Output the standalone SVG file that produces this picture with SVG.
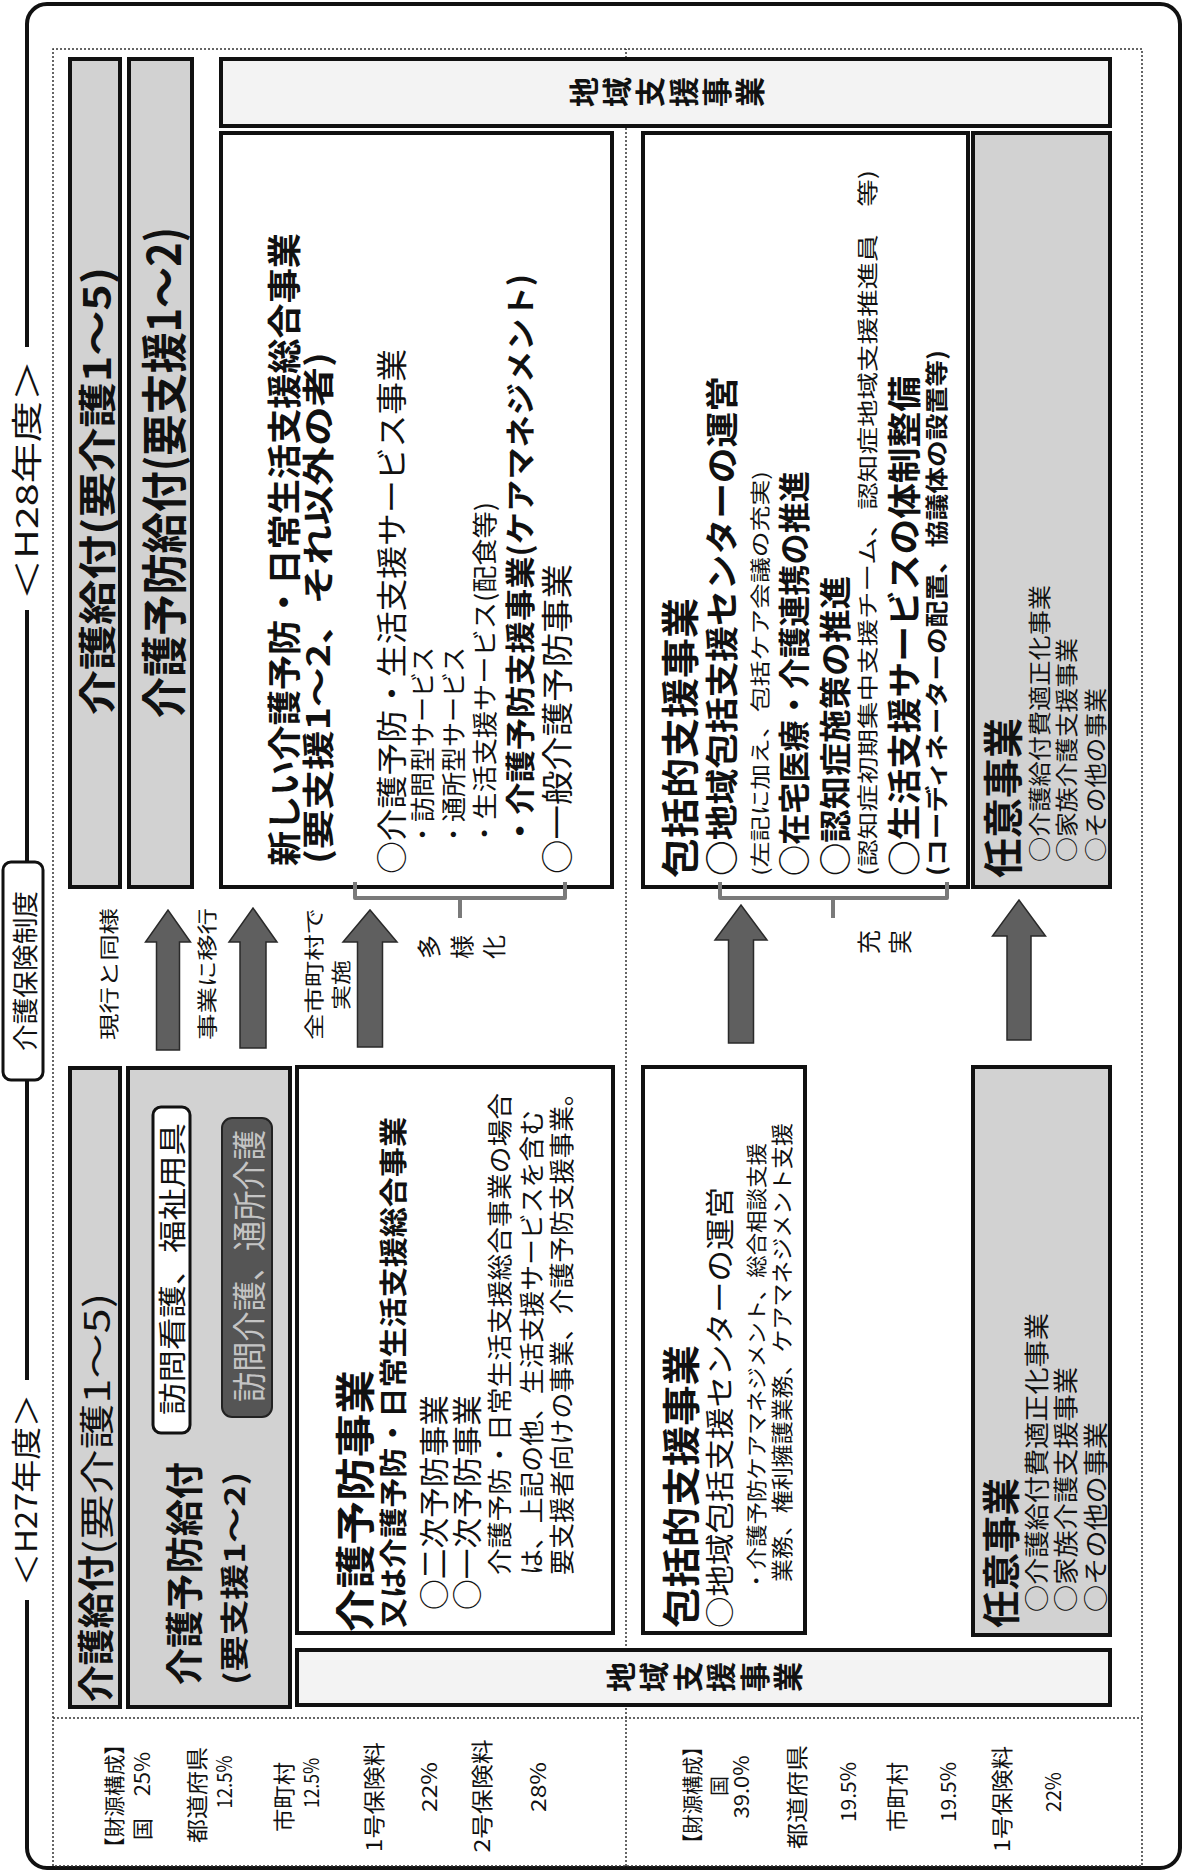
<svg xmlns="http://www.w3.org/2000/svg" width="1190" height="1872" viewBox="0 0 1190 1872">
<style>
.t{font-family:"Noto Sans CJK JP","Noto Sans CJK SC","Noto Sans",sans-serif;dominant-baseline:central;fill:#111}
.b{font-weight:700}
.m{text-anchor:middle}
.bx{stroke:#111;stroke-width:4}
.gray{fill:#d2d2d2}
.light{fill:#f3f3f3}
.white{fill:#fff}
.dot{fill:none;stroke:#333;stroke-width:1.5;stroke-dasharray:2 2}
.arrow{fill:#5f5f5f;stroke:#2a2a2a;stroke-width:1.5}
.brace{fill:none;stroke:#7a7a7a;stroke-width:4;stroke-linejoin:round}
</style>
<rect width="1190" height="1872" fill="#fff"/>
<g id="page" transform="translate(0 1872) rotate(-90)">
 <g id="frame">
  <rect x="4" y="27" width="1864" height="1153" rx="20" fill="none" stroke="#111" stroke-width="4"/>
  <rect x="6" y="53" width="1817" height="1089" class="dot"/>
  <line x1="154" y1="53" x2="154" y2="1142" class="dot"/>
  <line x1="6" y1="626" x2="1823" y2="626" class="dot"/>
  <rect x="272" y="12" width="220" height="30" fill="#fff"/>
  <rect x="1262" y="12" width="263" height="30" fill="#fff"/>
  <text class="t" x="286" y="24" font-size="30" textLength="192" lengthAdjust="spacingAndGlyphs">＜H27年度＞</text>
  <text class="t" x="1272" y="24" font-size="31" textLength="240" lengthAdjust="spacingAndGlyphs">＜H28年度＞</text>
 </g>
 <g id="node-seido">
  <rect x="792" y="3" width="218" height="40" rx="8" fill="#fff" stroke="#111" stroke-width="3"/>
  <text class="t m" x="901" y="23" font-size="26" textLength="160" lengthAdjust="spacingAndGlyphs">介護保険制度</text>
 </g>
 <g id="node-finance27">
  <text class="t m" x="76" y="113" font-size="21" textLength="124" lengthAdjust="spacingAndGlyphs">【財源構成】</text>
  <text class="t m" x="76" y="141" font-size="21" textLength="88" lengthAdjust="spacingAndGlyphs">国　25%</text>
  <text class="t m" x="77" y="195" font-size="22" textLength="96" lengthAdjust="spacingAndGlyphs">都道府県</text>
  <text class="t m" x="90" y="223" font-size="21" textLength="53" lengthAdjust="spacingAndGlyphs">12.5%</text>
  <text class="t m" x="75" y="282" font-size="22" textLength="70" lengthAdjust="spacingAndGlyphs">市町村</text>
  <text class="t m" x="89" y="310" font-size="21" textLength="50" lengthAdjust="spacingAndGlyphs">12.5%</text>
  <text class="t m" x="75" y="372" font-size="22" textLength="110" lengthAdjust="spacingAndGlyphs">1号保険料</text>
  <text class="t m" x="85" y="428" font-size="21" textLength="50" lengthAdjust="spacingAndGlyphs">22%</text>
  <text class="t m" x="76" y="480" font-size="22" textLength="113" lengthAdjust="spacingAndGlyphs">2号保険料</text>
  <text class="t m" x="85" y="537" font-size="21" textLength="50" lengthAdjust="spacingAndGlyphs">28%</text>
 </g>
 <g id="node-finance28">
  <text class="t m" x="77" y="691" font-size="21" textLength="116" lengthAdjust="spacingAndGlyphs">【財源構成】</text>
  <text class="t m" x="86" y="718" font-size="20">国</text>
  <text class="t m" x="85" y="740" font-size="21" textLength="63" lengthAdjust="spacingAndGlyphs">39.0%</text>
  <text class="t m" x="75" y="795" font-size="22" textLength="104" lengthAdjust="spacingAndGlyphs">都道府県</text>
  <text class="t m" x="80" y="847" font-size="21" textLength="60" lengthAdjust="spacingAndGlyphs">19.5%</text>
  <text class="t m" x="75" y="895" font-size="22" textLength="70" lengthAdjust="spacingAndGlyphs">市町村</text>
  <text class="t m" x="80" y="947" font-size="21" textLength="60" lengthAdjust="spacingAndGlyphs">19.5%</text>
  <text class="t m" x="73" y="1000" font-size="22" textLength="106" lengthAdjust="spacingAndGlyphs">1号保険料</text>
  <text class="t m" x="80" y="1052" font-size="21" textLength="40" lengthAdjust="spacingAndGlyphs">22%</text>
 </g>
 <g id="node-kaigo27">
  <rect x="165" y="70" width="639" height="50" class="bx gray"/>
  <text class="t b" x="170" y="94" font-size="37" textLength="147" lengthAdjust="spacingAndGlyphs">介護給付</text>
  <text class="t" x="317" y="94" font-size="35" textLength="262" lengthAdjust="spacingAndGlyphs">(要介護1～5)</text>
 </g>
 <g id="node-yobo27">
  <rect x="165" y="128" width="639" height="162" class="bx gray"/>
  <text class="t b" x="187" y="181" font-size="38" textLength="223" lengthAdjust="spacingAndGlyphs">介護予防給付</text>
  <text class="t b" x="187" y="233" font-size="28" textLength="213" lengthAdjust="spacingAndGlyphs">(要支援1～2)</text>
  <rect x="439" y="153" width="326" height="37" rx="8" fill="#fff" stroke="#111" stroke-width="3"/>
  <text class="t" x="457" y="171" font-size="28" textLength="292" lengthAdjust="spacingAndGlyphs">訪問看護、福祉用具</text>
  <rect x="455" y="222" width="299" height="50" rx="10" fill="#555" stroke="#222" stroke-width="2"/>
  <text class="t" x="470" y="247" font-size="34" textLength="272" lengthAdjust="spacingAndGlyphs" style="fill:#c4c4c4">訪問介護、通所介護</text>
 </g>
 <g id="node-yoboj27">
  <rect x="239" y="297" width="566" height="316" class="bx white"/>
  <text class="t b" x="240" y="353" font-size="40" textLength="262" lengthAdjust="spacingAndGlyphs">介護予防事業</text>
  <text class="t b" x="244" y="392" font-size="28" textLength="511" lengthAdjust="spacingAndGlyphs">又は介護予防・日常生活支援総合事業</text>
  <text class="t" x="262" y="432" font-size="30" textLength="215" lengthAdjust="spacingAndGlyphs">○二次予防事業</text>
  <text class="t" x="262" y="465" font-size="30" textLength="215" lengthAdjust="spacingAndGlyphs">○一次予防事業</text>
  <text class="t" x="297" y="498" font-size="25" textLength="482" lengthAdjust="spacingAndGlyphs">介護予防・日常生活支援総合事業の場合</text>
  <text class="t" x="297" y="530" font-size="25" textLength="465" lengthAdjust="spacingAndGlyphs">は、上記の他、生活支援サービスを含む</text>
  <text class="t" x="297" y="560" font-size="25" textLength="495" lengthAdjust="spacingAndGlyphs">要支援者向けの事業、介護予防支援事業。</text>
 </g>
 <g id="node-hokatsu27">
  <rect x="239" y="643" width="566" height="162" class="bx white"/>
  <text class="t b" x="244" y="678" font-size="38" textLength="283" lengthAdjust="spacingAndGlyphs">包括的支援事業</text>
  <text class="t" x="244" y="718" font-size="29" textLength="441" lengthAdjust="spacingAndGlyphs">○地域包括支援センターの運営</text>
  <text class="t" x="280" y="755" font-size="21" textLength="449" lengthAdjust="spacingAndGlyphs">・介護予防ケアマネジメント、総合相談支援</text>
  <text class="t" x="290" y="780" font-size="22" textLength="459" lengthAdjust="spacingAndGlyphs">業務、権利擁護業務、ケアマネジメント支援</text>
 </g>
 <g id="node-nini27">
  <rect x="237" y="973" width="568" height="137" class="bx gray"/>
  <text class="t b" x="244" y="998" font-size="38" textLength="150" lengthAdjust="spacingAndGlyphs">任意事業</text>
  <text class="t" x="260" y="1035" font-size="25" textLength="299" lengthAdjust="spacingAndGlyphs">○介護給付費適正化事業</text>
  <text class="t" x="260" y="1064" font-size="25" textLength="245" lengthAdjust="spacingAndGlyphs">○家族介護支援事業</text>
  <text class="t" x="260" y="1094" font-size="25" textLength="190" lengthAdjust="spacingAndGlyphs">○その他の事業</text>
 </g>
 <g id="node-chiiki27">
  <rect x="167" y="297" width="55" height="813" class="bx light"/>
  <text class="t b m" x="195" y="619" font-size="30">地</text>
  <text class="t b m" x="195" y="652" font-size="30">域</text>
  <text class="t b m" x="195" y="686" font-size="30">支</text>
  <text class="t b m" x="195" y="719" font-size="30">援</text>
  <text class="t b m" x="195" y="753" font-size="30">事</text>
  <text class="t b m" x="195" y="786" font-size="30">業</text>
 </g>
 <g id="node-kaigo28">
  <rect x="985" y="70" width="828" height="50" class="bx gray"/>
  <text class="t b" x="1157" y="94" font-size="38" textLength="448" lengthAdjust="spacingAndGlyphs">介護給付(要介護1～5)</text>
 </g>
 <g id="node-yobo28">
  <rect x="985" y="129" width="828" height="63" class="bx gray"/>
  <text class="t b" x="1154" y="161" font-size="46" textLength="491" lengthAdjust="spacingAndGlyphs">介護予防給付(要支援1～2)</text>
 </g>
 <g id="node-chiiki28">
  <rect x="1746" y="221" width="67" height="889" class="bx light"/>
  <text class="t b m" x="1780" y="582" font-size="30">地</text>
  <text class="t b m" x="1780" y="615" font-size="30">域</text>
  <text class="t b m" x="1780" y="648" font-size="30">支</text>
  <text class="t b m" x="1780" y="682" font-size="30">援</text>
  <text class="t b m" x="1780" y="715" font-size="30">事</text>
  <text class="t b m" x="1780" y="748" font-size="30">業</text>
 </g>
 <g id="node-sogo28">
  <rect x="985" y="221" width="754" height="391" class="bx white"/>
  <text class="t b" x="1006" y="282" font-size="34" textLength="633" lengthAdjust="spacingAndGlyphs">新しい介護予防・日常生活支援総合事業</text>
  <text class="t b" x="1008" y="316" font-size="32" textLength="512" lengthAdjust="spacingAndGlyphs">(要支援1～2、それ以外の者)</text>
  <text class="t" x="998" y="389" font-size="31" textLength="525" lengthAdjust="spacingAndGlyphs">○介護予防・生活支援サービス事業</text>
  <text class="t" x="1025" y="421" font-size="25" textLength="200" lengthAdjust="spacingAndGlyphs">・訪問型サービス</text>
  <text class="t" x="1025" y="452" font-size="25" textLength="200" lengthAdjust="spacingAndGlyphs">・通所型サービス</text>
  <text class="t" x="1025" y="483" font-size="25" textLength="345" lengthAdjust="spacingAndGlyphs">・生活支援サービス(配食等)</text>
  <text class="t b" x="1025" y="518" font-size="30" textLength="573" lengthAdjust="spacingAndGlyphs">・介護予防支援事業(ケアマネジメント)</text>
  <text class="t" x="998" y="555" font-size="32" textLength="310" lengthAdjust="spacingAndGlyphs">○一般介護予防事業</text>
 </g>
 <g id="node-hokatsu28">
  <rect x="985" y="643" width="754" height="325" class="bx white"/>
  <text class="t b" x="994" y="677" font-size="38" textLength="280" lengthAdjust="spacingAndGlyphs">包括的支援事業</text>
  <text class="t b" x="996" y="720" font-size="33" textLength="500" lengthAdjust="spacingAndGlyphs">○地域包括支援センターの運営</text>
  <text class="t" x="996" y="759" font-size="20" textLength="405" lengthAdjust="spacingAndGlyphs">(左記に加え、包括ケア会議の充実)</text>
  <text class="t b" x="996" y="792" font-size="32" textLength="405" lengthAdjust="spacingAndGlyphs">○在宅医療・介護連携の推進</text>
  <text class="t b" x="996" y="833" font-size="32" textLength="300" lengthAdjust="spacingAndGlyphs">○認知症施策の推進</text>
  <text class="t" x="996" y="866" font-size="21" textLength="706" lengthAdjust="spacingAndGlyphs">(認知症初期集中支援チーム、認知症地域支援推進員　等)</text>
  <text class="t b" x="996" y="902" font-size="34" textLength="500" lengthAdjust="spacingAndGlyphs">○生活支援サービスの体制整備</text>
  <text class="t b" x="996" y="935" font-size="23" textLength="526" lengthAdjust="spacingAndGlyphs">(コーディネーターの配置、協議体の設置等)</text>
 </g>
 <g id="node-nini28">
  <rect x="985" y="973" width="754" height="137" class="bx gray"/>
  <text class="t b" x="994" y="1001" font-size="40" textLength="160" lengthAdjust="spacingAndGlyphs">任意事業</text>
  <text class="t" x="1010" y="1038" font-size="23" textLength="277" lengthAdjust="spacingAndGlyphs">○介護給付費適正化事業</text>
  <text class="t" x="1010" y="1065" font-size="23" textLength="224" lengthAdjust="spacingAndGlyphs">○家族介護支援事業</text>
  <text class="t" x="1010" y="1094" font-size="23" textLength="174" lengthAdjust="spacingAndGlyphs">○その他の事業</text>
 </g>
 <g id="connectors">
  <polygon class="arrow" points="822,156.5 930,156.5 930,145.5 962,168 930,190.5 930,179.5 822,179.5"/>
  <polygon class="arrow" points="824,240 930,240 930,229 964,253 930,277 930,266 824,266"/>
  <polygon class="arrow" points="825,357.5 930,357.5 930,343 962,370 930,397 930,382.5 825,382.5"/>
  <polygon class="arrow" points="829,728.5 932,728.5 932,715 967,741 932,767 932,753.5 829,753.5"/>
  <polygon class="arrow" points="832,1007 936,1007 936,992.5 972,1019 936,1045.5 936,1031 832,1031"/>
  <path class="brace" d="M990 355 L974 355 L974 565 L990 565 M974 460 L954 460"/>
  <path class="brace" d="M990 720 L974 720 L974 947 L990 947 M974 833 L954 833"/>
  <text class="t" x="832" y="108" font-size="20" textLength="132" lengthAdjust="spacingAndGlyphs">現行と同様</text>
  <text class="t" x="832" y="206" font-size="20" textLength="132" lengthAdjust="spacingAndGlyphs">事業に移行</text>
  <text class="t" x="832" y="313" font-size="20" textLength="132" lengthAdjust="spacingAndGlyphs">全市町村で</text>
  <text class="t" x="862" y="340" font-size="20" textLength="50" lengthAdjust="spacingAndGlyphs">実施</text>
  <text class="t m" x="925" y="427" font-size="24">多</text>
  <text class="t m" x="925" y="460" font-size="24">様</text>
  <text class="t m" x="925" y="492" font-size="24">化</text>
  <text class="t m" x="930" y="867" font-size="24">充</text>
  <text class="t m" x="930" y="898" font-size="24">実</text>
 </g>
</g>
</svg>
